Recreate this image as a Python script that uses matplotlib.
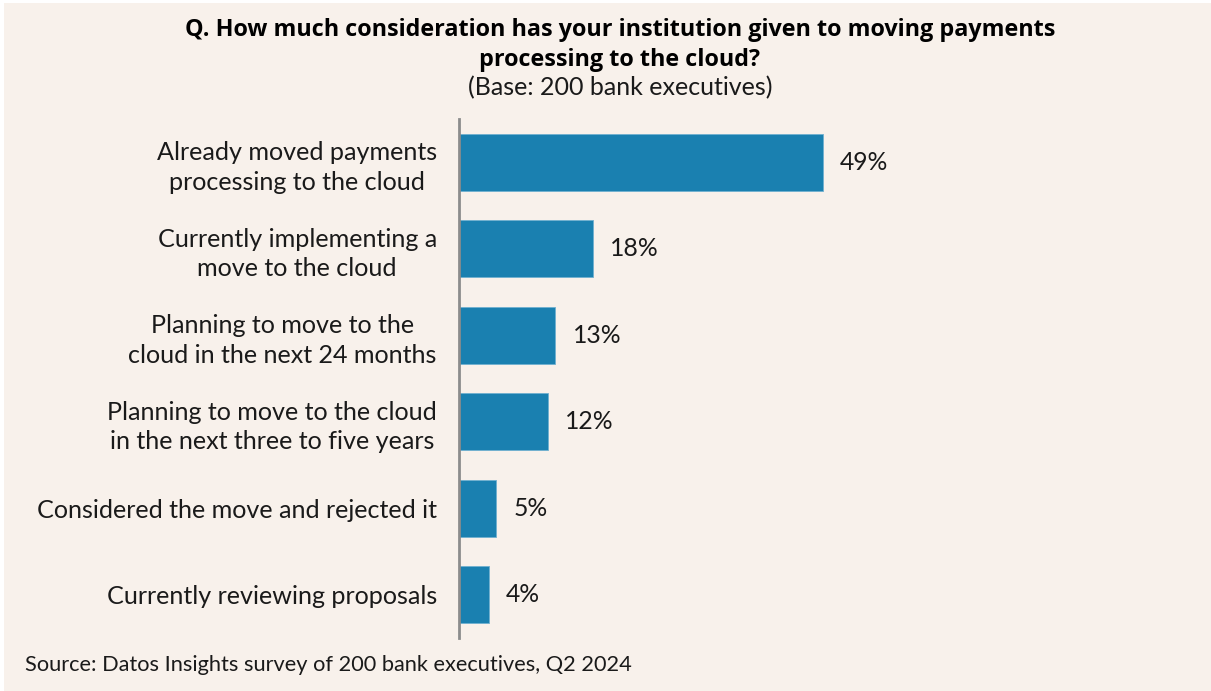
import matplotlib.pyplot as plt
from matplotlib.patches import Rectangle

categories = [
    "Already moved payments\nprocessing to the cloud",
    "Currently implementing a\nmove to the cloud",
    "Planning to move to the\ncloud in the next 24 months",
    "Planning to move to the cloud\nin the next three to five years",
    "Considered the move and rejected it",
    "Currently reviewing proposals",
]
shares = [49, 18, 13, 12, 5, 4]

title = "Q. How much consideration has your institution given to moving payments\nprocessing to the cloud?"
subtitle = "(Base: 200 bank executives)"
source = "Source: Datos Insights survey of 200 bank executives, Q2 2024"

bg = "#f8f1eb"
bar_color = "#1a80b0"
text_color = "#1a1a1a"

plt.rcParams['font.family'] = ['Lato', 'DejaVu Sans']

W, H = 1211, 691
fig = plt.figure(figsize=(W / 100, H / 100), dpi=100)
fig.patch.set_facecolor("white")
# cream panel, thin white margin on the top and left
fig.add_artist(Rectangle((4 / W, 0), 1 - 4 / W, 1 - 3 / H, transform=fig.transFigure,
                         facecolor=bg, edgecolor="none", zorder=-10))

ax_left, ax_bottom, ax_top = 459 / W, 1 - 638 / H, 1 - 119 / H
ax_right = 1180 / W
ax = fig.add_axes([ax_left, ax_bottom, ax_right - ax_left, ax_top - ax_bottom])
ax.set_facecolor("none")

px_per_unit = 7.42
ax.set_xlim(0, (1180 - 459) / px_per_unit)
ax.set_ylim(len(categories) - 0.5, -0.5)

y = list(range(len(categories)))
ax.barh(y, shares, height=0.66, color=bar_color, edgecolor="#6fb0d0", linewidth=0.6, zorder=2)

for yi, v in zip(y, shares):
    ax.annotate(f"{v}%", (v, yi), xytext=(12.5, 0), textcoords="offset points",
                ha="left", va="center", fontsize=17.8, color=text_color)

ax.set_yticks(y)
ax.set_yticklabels(categories, fontsize=18.1, color=text_color, ha="right",
                   multialignment="center", linespacing=1.35)
ax.tick_params(axis="y", length=0, pad=16)
ax.set_xticks([])

for s in ["top", "right", "bottom"]:
    ax.spines[s].set_visible(False)
ax.spines["left"].set_color("#8c8c8c")
ax.spines["left"].set_linewidth(2)
ax.spines["left"].set_zorder(3)

fig.text(620 / W, 1 - 45 / H, title, ha="center", va="center", fontsize=16.8,
         fontweight="bold", family=["Open Sans", "DejaVu Sans"], color="black",
         linespacing=1.33)
fig.text(620 / W, 1 - 88 / H, subtitle, ha="center", va="center", fontsize=18, color=text_color)
fig.text(25 / W, 1 - 665 / H, source, ha="left", va="center", fontsize=15.7, color=text_color)

fig.savefig("out.png", dpi=100, facecolor=fig.get_facecolor())
